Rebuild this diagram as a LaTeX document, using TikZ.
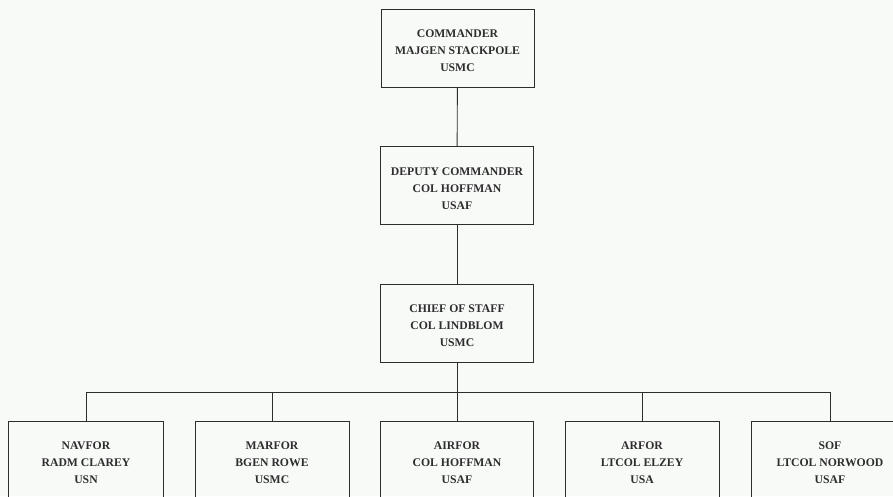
\documentclass[tikz,border=0pt]{standalone}
\usepackage{fontspec}
\setmainfont{Liberation Serif}
\definecolor{ink}{RGB}{45,45,45}
\definecolor{paper}{RGB}{248,250,248}
\begin{document}
\begin{tikzpicture}[x=1pt,y=-1pt,
  box/.style={draw=ink,line width=0.9pt,rectangle,minimum width=153pt,minimum height=78pt,
    align=center,inner sep=0pt,text=ink,font=\fontsize{11.7}{17}\selectfont\bfseries,
    text height=47pt,text depth=0pt},
  wire/.style={draw=ink,line width=0.9pt}]
\fill[paper] (0,0) rectangle (893,496);
\useasboundingbox (0,0) rectangle (893,496);
\node[box] (cmd) at (457.5,48) {COMMANDER\\MAJGEN STACKPOLE\\USMC};
\node[box] (dep) at (457,185.5) {DEPUTY COMMANDER\\COL HOFFMAN\\USAF};
\node[box] (cos) at (457,323) {CHIEF OF STAFF\\COL LINDBLOM\\USMC};
\node[box,minimum width=155pt] (nav) at (86,460) {NAVFOR\\RADM CLAREY\\USN};
\node[box,minimum width=154pt] (mar) at (272,460) {MARFOR\\BGEN ROWE\\USMC};
\node[box] (air) at (457,460) {AIRFOR\\COL HOFFMAN\\USAF};
\node[box,minimum width=154pt] (arf) at (642,460) {ARFOR\\LTCOL ELZEY\\USA};
\node[box,minimum width=157pt] (sof) at (830,460) {SOF\\LTCOL NORWOOD\\USAF};
\coordinate (bus) at (457,392);
\draw[wire] (cmd) -- (dep);
\draw[wire] (dep) -- (cos);
\draw[wire] (cos) -- (bus);
\foreach \b in {nav,mar,air,arf,sof} \draw[wire] (bus) -| (\b.north);
\end{tikzpicture}
\end{document}
